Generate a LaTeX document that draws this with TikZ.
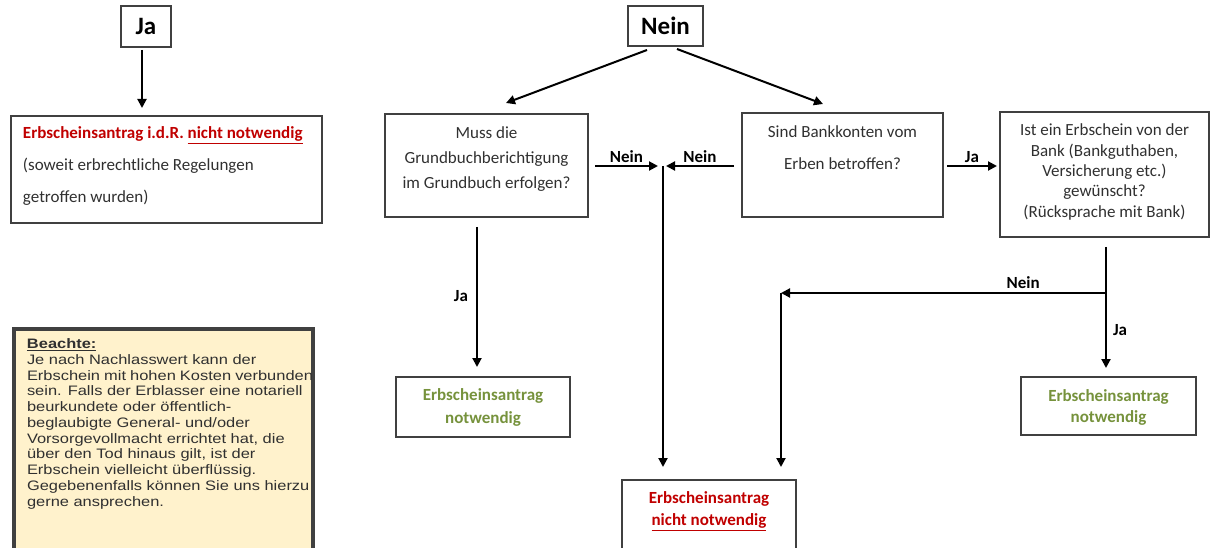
\documentclass[tikz,border=0pt]{standalone}
\usepackage{fontspec}
\setmainfont{Carlito}
\newfontfamily\arialf[FakeStretch=1.2]{Liberation Sans}
\usetikzlibrary{arrows.meta}
\definecolor{redt}{HTML}{C00000}
\definecolor{greent}{HTML}{76923C}
\definecolor{frame}{HTML}{404040}
\definecolor{notefill}{HTML}{FFF2CC}
\definecolor{txt}{HTML}{303030}
\newcommand\fsz[2]{\fontsize{#1}{#2}\selectfont}
\newcommand\tbox[4]{\parbox[c][#2][t]{#1}{\vspace*{#3}#4}}
\begin{document}
\begin{tikzpicture}[x=1pt,y=-1pt,
  box/.style={draw=frame, line width=1.2pt, inner sep=0pt, outer sep=0pt, text=txt},
  arr/.style={line width=2pt, -{Triangle[length=9pt,width=9pt]}},
  lbl/.style={font=\bfseries\fsz{17}{17}, inner sep=1pt, text=black},
]
\useasboundingbox (0,0) rectangle (1211,548);

% top boxes
\node[box, minimum width=50pt, minimum height=41pt, text=black] (ja) at (146,26.5) {\bfseries\fsz{25}{25}Ja};
\node[box, minimum width=75pt, minimum height=40pt, text=black] (nein) at (665.5,26) {\bfseries\fsz{25}{25}Nein};

% left result box
\node[box] (red1) at (166.5,169.5) {\tbox{311pt}{107pt}{11pt}{\raggedright\leftskip=12pt\fsz{17}{32}%
{\color{redt}\bfseries Erbscheinsantrag i.d.R. \underline{nicht notwendig}}\\
(soweit erbrechtliche Regelungen\\
getroffen wurden)}};

% note box
\node[draw=frame, line width=4pt, fill=notefill, anchor=north west, inner sep=0pt, text=txt] (note) at (12,327)
 {\tbox{299pt}{245pt}{9.6pt}{\raggedright\leftskip=13pt\arialf\fsz{13.7}{15.75}%
 \textbf{\underline{Beachte:}}\\
 Je nach Nachlasswert kann der\\
 Erbschein mit hohen Kosten verbunden\\
 sein. Falls der Erblasser eine notariell\\
 beurkundete oder öffentlich-\\
 beglaubigte General- und/oder\\
 Vorsorgevollmacht errichtet hat, die\\
 über den Tod hinaus gilt, ist der\\
 Erbschein vielleicht überflüssig.\\
 Gegebenenfalls können Sie uns hierzu\\
 gerne ansprechen.}};

% question boxes
\node[box] (muss) at (486.5,165.5) {\tbox{203pt}{103pt}{13pt}{\centering\fsz{17}{25}%
Muss die\\Grundbuchberichtigung\\im Grundbuch erfolgen?}};
\node[box] (sind) at (842.5,165) {\tbox{201pt}{104pt}{12.5pt}{\centering\fsz{17}{32}%
Sind Bankkonten vom\\Erben betroffen?}};
\node[box] (ist) at (1104.5,174.5) {\tbox{209pt}{125pt}{12pt}{\centering\fsz{17}{20.3}%
Ist ein Erbschein von der\\Bank (Bankguthaben,\\Versicherung etc.)\\gewünscht?\\(Rücksprache mit Bank)}};

% result boxes
\node[box] (greenL) at (483,407) {\tbox{174pt}{60pt}{12pt}{\centering\color{greent}\bfseries\fsz{17}{23}%
Erbscheinsantrag\\notwendig}};
\node[box] (greenR) at (1108.5,406) {\tbox{175pt}{58pt}{12.5pt}{\centering\color{greent}\bfseries\fsz{17}{21}%
Erbscheinsantrag\\notwendig}};
\node[box] (botred) at (709,520) {\tbox{174pt}{80pt}{11.5pt}{\centering\color{redt}\bfseries\fsz{17}{22}%
Erbscheinsantrag\\\underline{nicht notwendig}}};

% junction points
\coordinate (mid) at (663,166);
\coordinate (split) at (1106,293);
\coordinate (corner) at (781,293);

% connectors
\draw[arr] ([xshift=-4pt,yshift=-3pt]ja.south) -- ([xshift=-4pt,yshift=8pt]ja.south |- red1.north);
\draw[arr] ([xshift=-18.5pt,yshift=-4pt]nein.south) -- ([xshift=19.5pt,yshift=11pt]muss.north);
\draw[arr] ([xshift=11.5pt,yshift=-3pt]nein.south) -- ([xshift=-19.5pt,yshift=9pt]sind.north);
\draw[arr] ([xshift=7pt]muss.east |- mid) -- ([xshift=-5pt]mid) node[lbl, above=1pt, midway] {Nein};
\draw[arr] ([xshift=-8pt]sind.west |- mid) -- ([xshift=3pt]mid) node[lbl, above=1pt, midway] {Nein};
\draw[arr, shorten >=13pt] (mid) -- (mid |- botred.north);
\draw[arr] ([xshift=-9.5pt,yshift=-10pt]muss.south) -- ([xshift=-9.5pt,yshift=10pt]muss.south |- greenL.north) node[lbl, left=7pt, pos=0.49] {Ja};
\draw[arr] ([xshift=4pt]sind.east |- mid) -- ([xshift=-3pt]ist.west |- mid) node[lbl, above=1pt, midway] {Ja};
\draw[arr] ([xshift=1.5pt,yshift=-10pt]ist.south) -- ([xshift=-2.5pt,yshift=9pt]greenR.north) node[lbl, right=5pt, pos=0.69] {Ja};
\draw[arr] (split) -- (corner) node[lbl, above=2pt, pos=0.255] {Nein};
\draw[arr, shorten >=13pt] (corner) -- (corner |- botred.north);
\end{tikzpicture}
\end{document}
